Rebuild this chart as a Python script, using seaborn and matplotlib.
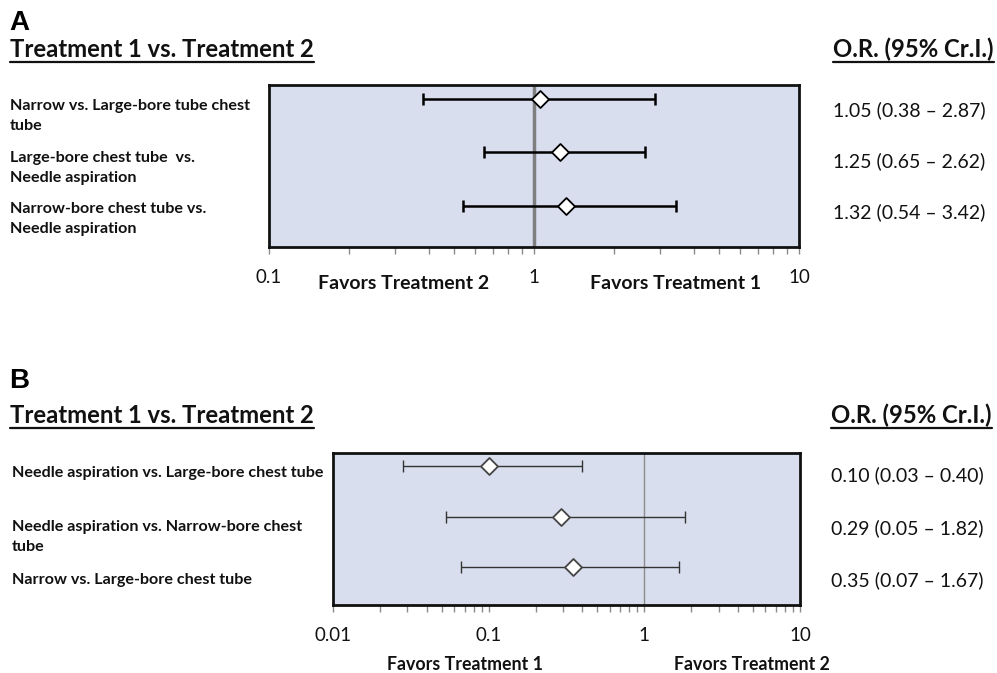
import matplotlib
matplotlib.use("Agg")
import matplotlib.pyplot as plt
import seaborn as sns
import pandas as pd
from matplotlib.lines import Line2D
from matplotlib.ticker import LogLocator, FixedLocator, FixedFormatter, NullFormatter

# ---------------- data ----------------
a_labels = ["Narrow vs. Large-bore tube chest\ntube",
            "Large-bore chest tube  vs.\nNeedle aspiration",
            "Narrow-bore chest tube vs.\nNeedle aspiration"]
a_or = [1.05, 1.25, 1.32]
a_lo = [0.38, 0.65, 0.54]
a_hi = [2.87, 2.62, 3.42]
a_text = ["1.05 (0.38 \u2013 2.87)", "1.25 (0.65 \u2013 2.62)", "1.32 (0.54 \u2013 3.42)"]
a_ticks = [0.1, 1, 10]
a_ticklabels = ["0.1", "1", "10"]

b_labels = ["Needle aspiration vs. Large-bore chest tube",
            "Needle aspiration vs. Narrow-bore chest\ntube",
            "Narrow vs. Large-bore chest tube"]
b_or = [0.10, 0.29, 0.35]
b_lo = [0.028, 0.053, 0.066]
b_hi = [0.40, 1.82, 1.67]
b_text = ["0.10 (0.03 \u2013 0.40)", "0.29 (0.05 \u2013 1.82)", "0.35 (0.07 \u2013 1.67)"]
b_ticks = [0.01, 0.1, 1, 10]
b_ticklabels = ["0.01", "0.1", "1", "10"]

# ---------------- style ----------------
sns.set_theme(style="white")
plt.rcParams['font.family'] = ['Lato', 'DejaVu Sans']
W, H = 997, 673
fig = plt.figure(figsize=(W / 100, H / 100), dpi=100)
BG = "#D8DEEE"

def fx(x):
    return x / W

def fy(y):
    return 1 - y / H

def ftext(x, y, s, **kw):
    return fig.text(fx(x), fy(y), s, **kw)

def make_panel(rect, ors, los, his, xlim, ticks, ticklabels, ylim, lw, ecolor, medge, refw, refc):
    l, t, r, b = rect
    ax = fig.add_axes([fx(l), fy(b), fx(r - l), (b - t) / H])
    ax.set_facecolor(BG)
    ax.set_xscale("log")
    ax.set_xlim(*xlim)
    ax.set_ylim(*ylim)
    pos = list(range(len(ors)))
    ax.axvline(1, color=refc, lw=refw, zorder=1)
    xerr = [[o - lo for o, lo in zip(ors, los)], [h - o for o, h in zip(ors, his)]]
    ax.errorbar(ors, pos, xerr=xerr, fmt="none", ecolor=ecolor, elinewidth=lw,
                capsize=4.5, capthick=lw, zorder=2)
    df = pd.DataFrame({"or": ors, "row": pos})
    sns.scatterplot(data=df, x="or", y="row", marker="D", s=75, color="white",
                    edgecolor=medge, linewidth=1.3, zorder=3, ax=ax, legend=False)
    ax.set_xlabel("")
    ax.set_ylabel("")
    ax.set_yticks([])
    ax.xaxis.set_major_locator(FixedLocator(ticks))
    ax.xaxis.set_major_formatter(FixedFormatter(ticklabels))
    ax.xaxis.set_minor_locator(LogLocator(base=10, subs=range(2, 10)))
    ax.xaxis.set_minor_formatter(NullFormatter())
    ax.tick_params(axis="x", which="both", direction="out", length=5, width=1,
                   color="#8a8a8a", bottom=True, labelsize=13.5, pad=11, labelcolor="#111111")
    for s in ax.spines.values():
        s.set_color("#111111")
        s.set_linewidth(2)
    return ax

axA = make_panel((269, 85, 799, 247), a_or, a_lo, a_hi, (0.1, 10), a_ticks, a_ticklabels,
                 (2.77, -0.26), 1.8, "black", "black", 2.5, "#7f7f7f")
axB = make_panel((333, 453, 800, 605), b_or, b_lo, b_hi, (0.01, 10), b_ticks, b_ticklabels,
                 (2.75, -0.26), 1.0, "#333333", "#444444", 1.0, "#8c8c8c")

# ---------------- panel letters and headers ----------------
ftext(9, 23, "A", fontsize=20, fontweight="bold", family=["Liberation Sans", "DejaVu Sans"],
      va="center", ha="left", color="black")
ftext(9, 381, "B", fontsize=20, fontweight="bold", family=["Liberation Sans", "DejaVu Sans"],
      va="center", ha="left", color="black")

underlined = []
underlined.append(ftext(10, 57, "Treatment 1 vs. Treatment 2", fontsize=17.2, fontweight="bold",
                        va="baseline", ha="left", color="#111111"))
underlined.append(ftext(833, 57, "O.R. (95% Cr.I.)", fontsize=17.2, fontweight="bold",
                        va="baseline", ha="left", color="#111111"))
underlined.append(ftext(10, 423, "Treatment 1 vs. Treatment 2", fontsize=17.2, fontweight="bold",
                        va="baseline", ha="left", color="#111111"))
underlined.append(ftext(831, 423, "O.R. (95% Cr.I.)", fontsize=17.2, fontweight="bold",
                        va="baseline", ha="left", color="#111111"))

# ---------------- row labels ----------------
for lab, y in zip(a_labels, [116, 168, 219]):
    ftext(10, y, lab, fontsize=11.6, fontweight="bold", va="center", ha="left",
          linespacing=1.6, color="#111111")
for lab, y in zip(b_labels, [473, 537, 580]):
    ftext(12, y, lab, fontsize=11.6, fontweight="bold", va="center", ha="left",
          linespacing=1.6, color="#111111")

for s, y in zip(a_text, [110, 161, 212]):
    ftext(833, y, s, fontsize=14, va="center", ha="left", color="#111111")
for s, y in zip(b_text, [475, 528, 580]):
    ftext(831, y, s, fontsize=14, va="center", ha="left", color="#111111")

# ---------------- favors labels ----------------
ftext(404, 283, "Favors Treatment 2", fontsize=14, fontweight="bold", va="center", ha="center", color="#111111")
ftext(676, 283, "Favors Treatment 1", fontsize=14, fontweight="bold", va="center", ha="center", color="#111111")
ftext(465, 664, "Favors Treatment 1", fontsize=12.8, fontweight="bold", va="center", ha="center", color="#111111")
ftext(752, 664, "Favors Treatment 2", fontsize=12.8, fontweight="bold", va="center", ha="center", color="#111111")

# ---------------- underlines ----------------
fig.canvas.draw()
renderer = fig.canvas.get_renderer()
for t in underlined:
    bb = t.get_window_extent(renderer)
    x0, y0 = t.get_position()
    yl = y0 - 4.5 / H
    fig.add_artist(Line2D([bb.x0 / W, bb.x1 / W], [yl, yl], transform=fig.transFigure,
                          color="#111111", lw=1.6))

fig.savefig("out.png", dpi=100)
